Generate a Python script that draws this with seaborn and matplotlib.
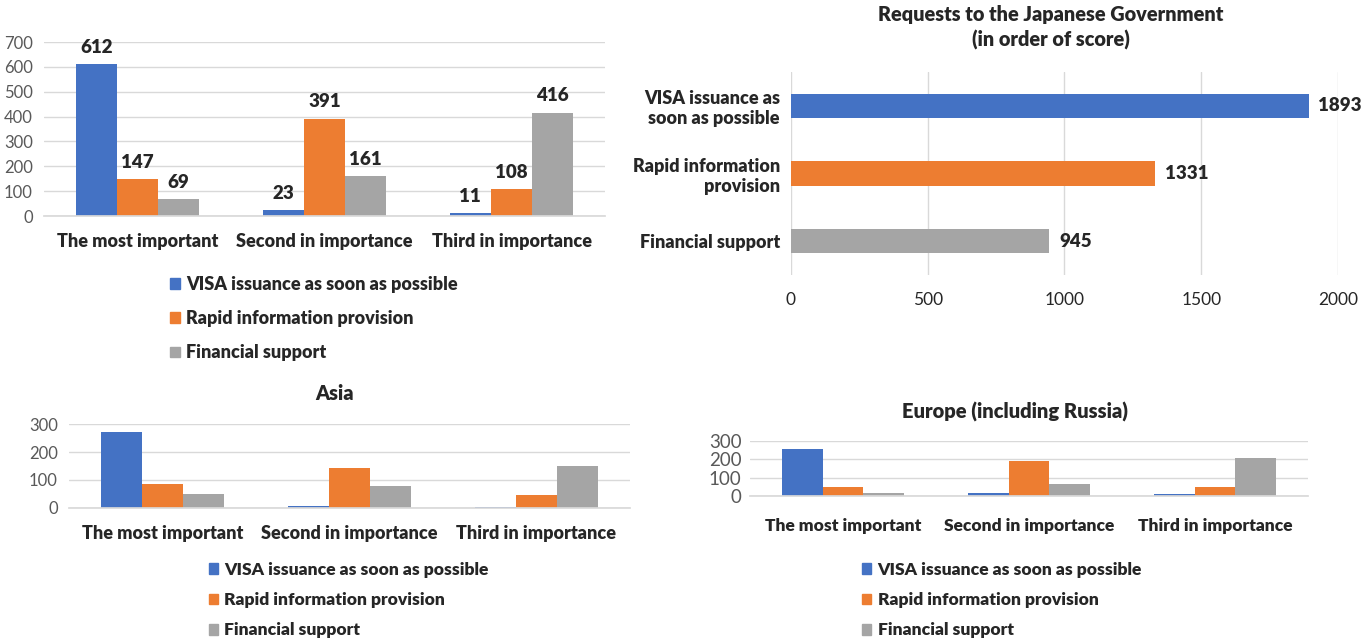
import matplotlib
matplotlib.use("Agg")
import matplotlib.pyplot as plt
import pandas as pd
import seaborn as sns

# ---- data ----
ranks = ["The most important", "Second in importance", "Third in importance"]
requests = ["VISA issuance as soon as possible", "Rapid information provision", "Financial support"]

total_visa = [612, 23, 11]
total_info = [147, 391, 108]
total_fin = [69, 161, 416]

asia_visa = [270, 6, 3]
asia_info = [87, 143, 45]
asia_fin = [49, 79, 149]

europe_visa = [259, 15, 9]
europe_info = [48, 193, 48]
europe_fin = [15, 65, 209]

score_labels = ["VISA issuance as\nsoon as possible", "Rapid information\nprovision", "Financial support"]
scores = [1893, 1331, 945]

colors = ["#4472C4", "#ED7D31", "#A5A5A5"]
W, H = 1369, 641
BOLD = "heavy"

sns.set_theme(style="white")
plt.rcParams["font.family"] = ["Lato", "DejaVu Sans"]


def px_axes(fig, left, top, right, bottom):
    return fig.add_axes([left / W, 1 - bottom / H, (right - left) / W, (bottom - top) / H])


def long_frame(visa, info, fin):
    rows = []
    for series, vals in zip(requests, [visa, info, fin]):
        for rank, v in zip(ranks, vals):
            rows.append({"rank": rank, "request": series, "value": v})
    return pd.DataFrame(rows)


def grouped(ax, df, ymax, step, labels=False, tick_size=12, cat_size=13, cat_pad=12):
    sns.barplot(data=df, x="rank", y="value", hue="request", hue_order=requests,
                order=ranks, palette=colors, width=0.66, saturation=1, ax=ax,
                edgecolor="none")
    ax.set_ylim(0, ymax)
    ax.set_yticks(range(0, ymax + 1, step))
    ax.set_xlim(-0.5, 2.5)
    ax.yaxis.grid(True, color="#D9D9D9", lw=1)
    ax.set_axisbelow(True)
    for s in ["top", "right", "left"]:
        ax.spines[s].set_visible(False)
    ax.spines["bottom"].set_color("#D9D9D9")
    ax.set_xlabel("")
    ax.set_ylabel("")
    ax.tick_params(axis="y", labelsize=tick_size, labelcolor="#595959", length=0, pad=8)
    ax.tick_params(axis="x", labelsize=cat_size, length=0, pad=cat_pad)
    for t in ax.get_xticklabels():
        t.set_fontweight(BOLD)
    ax.set_xticks([0.5, 1.5], minor=True)
    ax.tick_params(axis="x", which="minor", length=6, color="#D9D9D9", width=1)
    if labels:
        for c in ax.containers:
            ax.bar_label(c, padding=6, fontsize=13.5, fontweight=BOLD)
    leg = ax.get_legend()
    if leg is not None:
        leg.remove()


def legend(fig, x, y, spacing, size=13):
    handles = [plt.Rectangle((0, 0), 1, 1, color=c) for c in colors]
    fig.legend(handles, requests, loc="upper left", bbox_to_anchor=(x / W, 1 - y / H),
               frameon=False, handlelength=0.55, handleheight=0.55, handletextpad=0.35,
               labelspacing=spacing, prop={"size": size, "weight": BOLD}, borderpad=0)


fig = plt.figure(figsize=(W / 100, H / 100), dpi=100)

# top-left: all respondents
ax1 = px_axes(fig, 44, 42, 605, 216)
grouped(ax1, long_frame(total_visa, total_info, total_fin), 700, 100, labels=True)
legend(fig, 161, 267, 0.95)

# top-right: scores
ax2 = px_axes(fig, 791, 72, 1338, 275)
sns.barplot(x=scores, y=score_labels, hue=score_labels, palette=colors, orient="h",
            width=0.36, saturation=1, legend=False, ax=ax2, edgecolor="none")
ax2.set_xlim(0, 2000)
ax2.set_xticks(range(0, 2001, 500))
ax2.xaxis.grid(True, color="#D9D9D9", lw=1)
ax2.set_axisbelow(True)
for s in ax2.spines.values():
    s.set_visible(False)
ax2.tick_params(axis="x", labelsize=12.5, labelcolor="#262626", length=0, pad=12)
ax2.tick_params(axis="y", labelsize=13, length=0, pad=8)
for t in ax2.get_yticklabels():
    t.set_fontweight(BOLD)
for c in ax2.containers:
    ax2.bar_label(c, padding=7, fontsize=13.5, fontweight=BOLD)
fig.text(1051 / W, 1 - 5 / H, "Requests to the Japanese Government\n(in order of score)",
         ha="center", va="top", fontsize=14.3, fontweight=BOLD, linespacing=1.35)

# bottom-left: Asia
ax3 = px_axes(fig, 69, 424, 630, 508)
grouped(ax3, long_frame(asia_visa, asia_info, asia_fin), 300, 100)
fig.text(335 / W, 1 - 393 / H, "Asia", ha="center", va="center", fontsize=14.3, fontweight=BOLD)
legend(fig, 200, 553, 0.82, size=12.6)

# bottom-right: Europe
ax4 = px_axes(fig, 750, 441, 1308, 496)
grouped(ax4, long_frame(europe_visa, europe_info, europe_fin), 300, 100,
        tick_size=13.5, cat_size=12.5, cat_pad=16)
ax4.tick_params(axis="y", pad=6)
fig.text(1015 / W, 1 - 412 / H, "Europe (including Russia)", ha="center", va="center",
         fontsize=14.5, fontweight=BOLD)
legend(fig, 853, 553, 0.82, size=12.6)

fig.savefig("out.png", dpi=100)
